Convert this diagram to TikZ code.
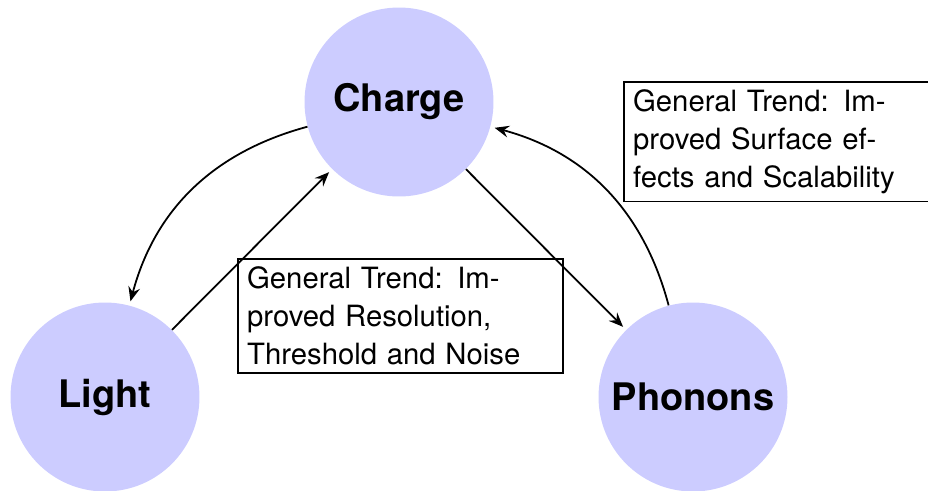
\documentclass[tikz,border=0pt]{standalone}
\usepackage{fontspec}
\setmainfont{TeX Gyre Heros}
\usetikzlibrary{arrows.meta}
\begin{document}
\begin{tikzpicture}[x=0.59pt,y=-0.59pt,
  state/.style={circle, fill=blue!20, minimum size=111.5pt, inner sep=0pt,
    font=\fontsize{22.4}{27}\selectfont\bfseries},
  trendbox/.style={draw, line width=1pt, anchor=north west, text width=181pt,
    align=left, inner xsep=5.5pt, inner ysep=4.5pt,
    font=\fontsize{17.28}{22.5}\selectfont},
  link/.style={line width=1.05pt, -{Stealth[length=8.5pt,width=7pt,inset=3pt]},
    shorten >=2.5pt}]
\useasboundingbox (0,0) rectangle (928,490);

% the three detection channels
\node[state] (charge)  at (399,102) {Charge};
\node[state] (light)   at (105,397) {Light};
\node[state] (phonons) at (693,397) {Phonons};

% trend annotations
\node[trendbox] (trendA) at (237,258)
  {General Trend: Im-\\proved Resolution,\\Threshold and Noise};
\node[trendbox] (trendB) at (623,81)
  {General Trend: Im-\\proved Surface ef-\\fects and Scalability};

% connections between channels
\draw[link] (charge) to[bend right=30] (light);
\draw[link] (light) -- (charge);
\draw[link] (charge) -- (phonons);
\draw[link] (phonons) to[bend right=30] (charge);
\end{tikzpicture}
\end{document}
